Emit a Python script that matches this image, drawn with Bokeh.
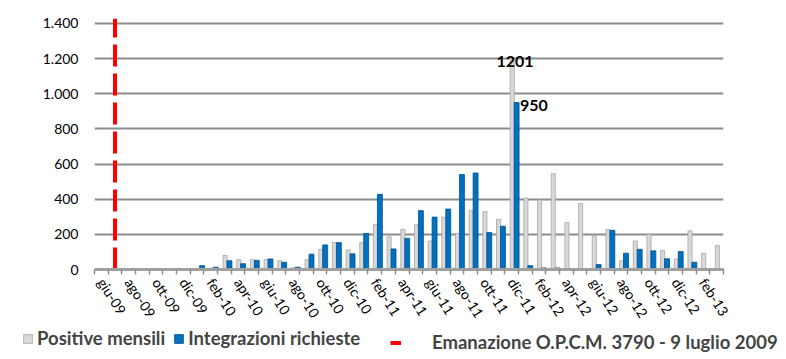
from bokeh.plotting import figure
from bokeh.models import Range1d, FixedTicker, Legend, LegendItem, ColumnDataSource
from bokeh.layouts import column
from bokeh.transform import dodge
from bokeh.core.properties import value
from bokeh.embed import file_html
from bokeh.resources import INLINE

months = ["giu-09", "lug-09", "ago-09", "set-09", "ott-09", "nov-09", "dic-09",
          "gen-10", "feb-10", "mar-10", "apr-10", "mag-10", "giu-10", "lug-10",
          "ago-10", "set-10", "ott-10", "nov-10", "dic-10",
          "gen-11", "feb-11", "mar-11", "apr-11", "mag-11", "giu-11", "lug-11",
          "ago-11", "set-11", "ott-11", "nov-11", "dic-11",
          "gen-12", "feb-12", "mar-12", "apr-12", "mag-12", "giu-12", "lug-12",
          "ago-12", "set-12", "ott-12", "nov-12", "dic-12",
          "gen-13", "feb-13", "mar-13"]

positive = [0, 0, 0, 0, 0, 0, 0,
            4, 8, 80, 56, 56, 56, 50,
            10, 56, 115, 154, 112,
            153, 257, 186, 229, 255, 162, 298,
            205, 335, 329, 285, 1201,
            406, 396, 545, 268, 376, 190, 227,
            50, 162, 201, 108, 60,
            220, 93, 136]

integrazioni = [2, 2, 2, 2, 2, 2, 2,
                22, 13, 50, 33, 52, 60, 41,
                13, 87, 140, 153, 89,
                205, 428, 117, 177, 335, 298, 344,
                540, 549, 210, 246, 950,
                22, 9, 9, 4, 4, 28, 223,
                93, 115, 106, 61, 102,
                41, 4, 3]

y_ticks = [0, 200, 400, 600, 800, 1000, 1200, 1400]
y_tick_labels = ["0", "200", "400", "600", "800", "1.000", "1.200", "1.400"]
decree_month = "lug-09"
series_names = ["Positive mensili", "Integrazioni richieste"]
decree_label = "Emanazione O.P.C.M. 3790 - 9 luglio 2009"

FONT = "Lato"
GREY = "#d9d9d9"
GREY_EDGE = "#a6a6a6"
BLUE = "#0070c0"
BLUE_EDGE = "#004f8a"
RED = "#ff0000"

idx = list(range(len(months)))
src = ColumnDataSource(dict(x=idx, pos=positive, integ=integrazioni))

p = figure(width=786, height=328,
           x_range=Range1d(-0.5, len(months) - 0.5),
           y_range=Range1d(0, 1428),
           output_backend="svg", toolbar_location=None,
           min_border_left=94, min_border_right=63,
           min_border_top=18, min_border_bottom=51)
p.frame_align = False
p.outline_line_color = None
p.background_fill_color = "white"
p.border_fill_color = "white"

p.vbar(x=dodge("x", 0.05, range=p.x_range), top="pos", width=0.3,
       source=src, fill_color=GREY, line_color=GREY_EDGE, line_width=0.8)
p.vbar(x=dodge("x", 0.37, range=p.x_range), top="integ", width=0.36,
       source=src, fill_color=BLUE, line_color=BLUE_EDGE, line_width=0.8)

# decree line
dx = months.index(decree_month)
p.line(x=[dx, dx], y=[0, p.y_range.end], line_color=RED,
       line_width=4, line_dash="22 7")

# peak labels
pk = positive.index(max(positive))
p.text(x=[pk + 0.25], y=[positive[pk]], text=[str(positive[pk])],
       text_font=value(FONT), text_font_style="bold", text_font_size="16px",
       text_align="center", text_baseline="alphabetic", y_offset=3, text_color="black")
bk = integrazioni.index(max(integrazioni))
p.text(x=[bk + 0.62], y=[integrazioni[bk]], text=[str(integrazioni[bk])],
       text_font=value(FONT), text_font_style="bold", text_font_size="16px",
       text_align="left", text_baseline="alphabetic", y_offset=3, text_color="black")

# axes
p.yaxis.ticker = FixedTicker(ticks=y_ticks)
p.yaxis.major_label_overrides = dict(zip(y_ticks, y_tick_labels))
p.yaxis.axis_line_color = None
p.yaxis.major_tick_line_color = None
p.yaxis.major_tick_out = 0
p.yaxis.major_tick_in = 0
p.yaxis.minor_tick_line_color = None
p.yaxis.minor_tick_out = 0
p.yaxis.minor_tick_in = 0
p.yaxis.major_label_standoff = 16
p.yaxis.major_label_text_font = FONT
p.yaxis.major_label_text_font_size = "14px"
p.yaxis.major_label_text_color = "black"

p.xaxis.ticker = FixedTicker(ticks=idx[::2], minor_ticks=[i - 0.5 for i in range(len(months) + 1)])
p.xaxis.major_label_overrides = {i: months[i] for i in idx[::2]}
p.xaxis.major_label_orientation = -1.0
p.xaxis.major_tick_in = 0
p.xaxis.major_tick_out = 0
p.xaxis.minor_tick_in = 0
p.xaxis.minor_tick_out = 5
p.xaxis.minor_tick_line_color = "#8c8c8c"
p.xaxis.minor_tick_line_width = 1.5
p.xaxis.axis_line_color = "#a0a0a0"
p.xaxis.axis_line_width = 3
p.xaxis.major_label_text_font = FONT
p.xaxis.major_label_text_font_size = "14px"
p.xaxis.major_label_text_color = "black"
p.xaxis.major_label_standoff = 5

p.ygrid.grid_line_color = "#8c8c8c"
p.ygrid.grid_line_width = 1.8
p.xgrid.grid_line_color = None

# legend strip
q = figure(width=786, height=31, x_range=Range1d(0, 1), y_range=Range1d(0, 1),
           output_backend="svg", toolbar_location=None,
           x_axis_location=None, y_axis_location=None,
           min_border=0)
q.frame_align = False
q.outline_line_color = None
q.grid.grid_line_color = None
g_r = q.vbar(x="x", top="pos", width=0.3, source=src, visible=False,
             fill_color=GREY, line_color=GREY_EDGE, line_width=0.8)
b_r = q.vbar(x="x", top="integ", width=0.3, source=src, visible=False,
             fill_color=BLUE, line_color=BLUE_EDGE, line_width=0.8)
r_r = q.line(x="x", y="pos", source=src, visible=False,
             line_color=RED, line_width=4, line_dash="22 7")

common = dict(orientation="horizontal", glyph_width=11, glyph_height=11,
              padding=0, margin=0, border_line_color=None, background_fill_alpha=0,
              inactive_fill_alpha=0,
              label_text_font=FONT, label_text_font_style="bold",
              label_text_font_size="18.5px", label_height=11)
leg1 = Legend(items=[LegendItem(label=series_names[0], renderers=[g_r]),
                     LegendItem(label=series_names[1], renderers=[b_r])],
              location=(22, 10), label_standoff=4, spacing=8, **common)
leg2 = Legend(items=[LegendItem(label=decree_label, renderers=[r_r])],
              location=(390, 6), label_standoff=31, **common)
q.add_layout(leg1, "center")
q.add_layout(leg2, "center")

layout = column(p, q, spacing=0)
open("out.html", "w").write(file_html(layout, INLINE))
